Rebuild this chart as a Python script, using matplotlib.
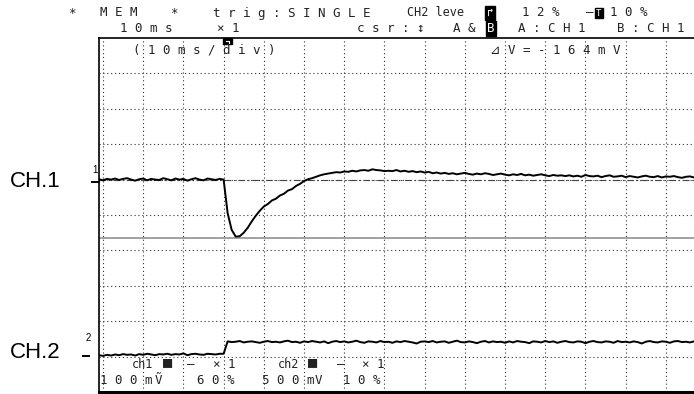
import numpy as np
import matplotlib
matplotlib.use("Agg")
import matplotlib.pyplot as plt
from matplotlib.patches import Rectangle

W, H = 694, 394

# sample times (ms), 1 ms per sample, screen is 10 ms/div
time_ms = np.arange(-1, 148)

# CH.1 trace in mV (100 mV/div)
ch1_mv = [1, -2, 2, 0, 3, -1, 2, 4, 0, -3, 1, 3, -2, 2, 0, -1, 4, 1, -2, 3, 0, 2, -3, 1, 4, 0, -2, 3, 1, -1, 2,
          0, -95, -142, -161, -160, -150, -136, -118, -102, -88,
          -76, -69, -59, -54, -45, -40, -31, -27, -18, -12,
          -4, 1, 4, 8, 12, 15, 17, 19, 21, 20,
          23, 22, 25, 23, 26, 27, 25, 29, 27, 26,
          24, 25,
          24, 27, 23, 25, 22, 24, 21, 23, 20, 22,
          18, 20, 17, 19, 16, 18, 15, 17, 19, 16, 14, 17, 15, 18, 16, 13, 15, 17,
          14, 12, 15, 13, 16, 12, 14, 11, 13, 15, 12, 10, 13, 11, 12,
          10, 12, 9, 11, 8, 13, 10, 9, 11, 7, 10, 12, 8, 9, 11, 7, 10, 8, 6, 9,
          11, 8, 7, 10, 6, 9, 8, 10, 7, 5, 8, 9, 6]

# CH.2 trace in mV (500 mV/div)
ch2_mv = [20, 10, 25, 15, 30, 20, 35, 25, 30, 15, 35, 25, 40, 30, 20, 35, 30, 40, 25, 35, 30, 45, 20, 35, 40, 30, 25, 40, 35, 30, 40,
          40,
          215, 205, 210, 220, 200, 210, 215, 205, 195, 210,
          220, 205, 210, 200, 215, 225, 205, 210, 195, 215,
          205, 220, 210, 200, 215, 190, 210, 220, 205, 215,
          200, 210, 225, 205, 195, 215, 210, 200, 220, 205,
          210, 195, 215, 205, 220, 210, 200, 185, 210, 215,
          205, 220, 200, 210, 215, 195, 210, 225, 205, 200,
          215, 205, 190, 210, 220, 200, 215, 205, 210, 195,
          215, 200, 220, 210, 205, 190, 215, 210, 200, 220,
          205, 215, 195, 210, 220, 205, 200, 215, 210, 190,
          210, 220, 205, 200, 215, 210, 195, 220, 205, 210,
          200, 215, 205, 185, 210, 220, 205, 200, 215, 210,
          195, 215, 220, 205, 210, 200, 215]

ch1_scale, ch2_scale = 100, 500   # mV/div
ch1_pos, ch2_pos = 6.0, 1.0       # ground position in divisions
delta_v = -164                    # cursor reading, mV

mono = ['DejaVu Sans Mono', 'DejaVu Sans']


def fx(x):
    return x / W


def fy(y):
    return 1 - y / H


fig = plt.figure(figsize=(W / 100, H / 100), dpi=100)
ax = fig.add_axes([fx(99), fy(392), 1 - fx(99), (392 - 38) / H])
ax.set_xlim(-1, 147)
ax.set_ylim(0, 10)
ax.set_xticks([])
ax.set_yticks([])
ax.spines['right'].set_visible(False)
ax.spines['left'].set_linewidth(1.2)
ax.spines['top'].set_linewidth(1.2)
ax.spines['bottom'].set_linewidth(2.2)

# dotted graticule
for xv in range(0, 150, 10):
    ax.axvline(xv, color='#333333', lw=0.8, ls=(0, (1, 2.5)))
for yv in range(1, 10):
    ax.axhline(yv, color='#333333', lw=0.8, ls=(0, (1, 2.5)))

# cursors
ax.axhline(ch1_pos, color='#444444', lw=0.8, ls=(0, (6, 2.5, 1.5, 2.5)))
ax.axhline(ch1_pos + delta_v / ch1_scale, color='#9a9a9a', lw=1.3)

ch1 = ch1_pos + np.array(ch1_mv) / ch1_scale
ch2 = ch2_pos + np.array(ch2_mv) / ch2_scale
ax.plot(time_ms, ch1, color='black', lw=1.4)
ax.plot(time_ms, ch2, color='black', lw=1.4)

# channel labels and ground markers
fig.text(fx(10), fy(182), 'CH.1', fontsize=16, family='Liberation Sans', va='center', ha='left')
fig.text(fx(10), fy(352), 'CH.2', fontsize=16, family='Liberation Sans', va='center', ha='left')
fig.text(fx(95), fy(170), '1', fontsize=7, family='Liberation Sans', va='center', ha='center')
fig.text(fx(88), fy(338), '2', fontsize=7, family='Liberation Sans', va='center', ha='center')
fig.add_artist(plt.Line2D([fx(92), fx(99)], [fy(182), fy(182)], color='black', lw=1.4))
fig.add_artist(plt.Line2D([fx(83), fx(89)], [fy(356), fy(356)], color='black', lw=1.4))

# trigger marker on the top border
fig.add_artist(Rectangle((fx(223), fy(44)), fx(9), 6 / H, color='black'))
fig.add_artist(plt.Line2D([fx(226), fx(229), fx(229)], [fy(41), fy(41), fy(43)], color='white', lw=0.8))

tc = '#222222'


def t(x, y, s, size=9, **kw):
    fig.text(fx(x), fy(y), s, fontsize=size, family=mono, va='center', ha='left', color=tc, **kw)


# header line 1
t(68, 13, '*')
t(100, 13, 'M E M')
t(170, 13, '*')
t(213, 13, 't r i g : S I N G L E')
t(407, 13, 'CH2 leve', size=8.5)
fig.text(fx(490), fy(13), '↱', fontsize=8, family=mono, va='center', ha='center', color='white',
         bbox=dict(boxstyle='square,pad=0.15', fc='black', ec='black'))
t(522, 13, '1 2 %')
t(586, 13, '–')
fig.text(fx(599), fy(13), 'T', fontsize=6.5, family=mono, va='center', ha='center', color='white',
         bbox=dict(boxstyle='square,pad=0.1', fc='black', ec='black'))
t(610, 13, '1 0 %')

# header line 2
t(120, 28, '1 0 m s')
t(217, 28, '× 1')
t(357, 28, 'c s r : ↕')
t(453, 28, 'A &')
fig.text(fx(491), fy(28), 'B', fontsize=9, family=mono, va='center', ha='center', color='white',
         bbox=dict(boxstyle='square,pad=0.08', fc='black', ec='black'))
t(518, 28, 'A : C H 1')
t(617, 28, 'B : C H 1')

# on-screen readouts
t(133, 50, '( 1 0 m s / d i v )')
t(490, 50, '⊿ V = - 1 6 4 m V')

# bottom readouts
t(132, 365, 'ch1', size=8.5)
t(163, 362, '■', size=11)
t(187, 365, '–')
t(213, 365, '× 1')
t(278, 365, 'ch2', size=8.5)
t(308, 362, '■', size=11)
t(337, 365, '–')
t(362, 365, '× 1')
t(100, 380, '1 0 0 m')
t(155, 380, 'Ṽ')
t(197, 380, '6 0 %')
t(262, 380, '5 0 0 m')
t(315, 380, 'V')
t(343, 380, '1 0 %')

fig.savefig('out.png', dpi=100)
